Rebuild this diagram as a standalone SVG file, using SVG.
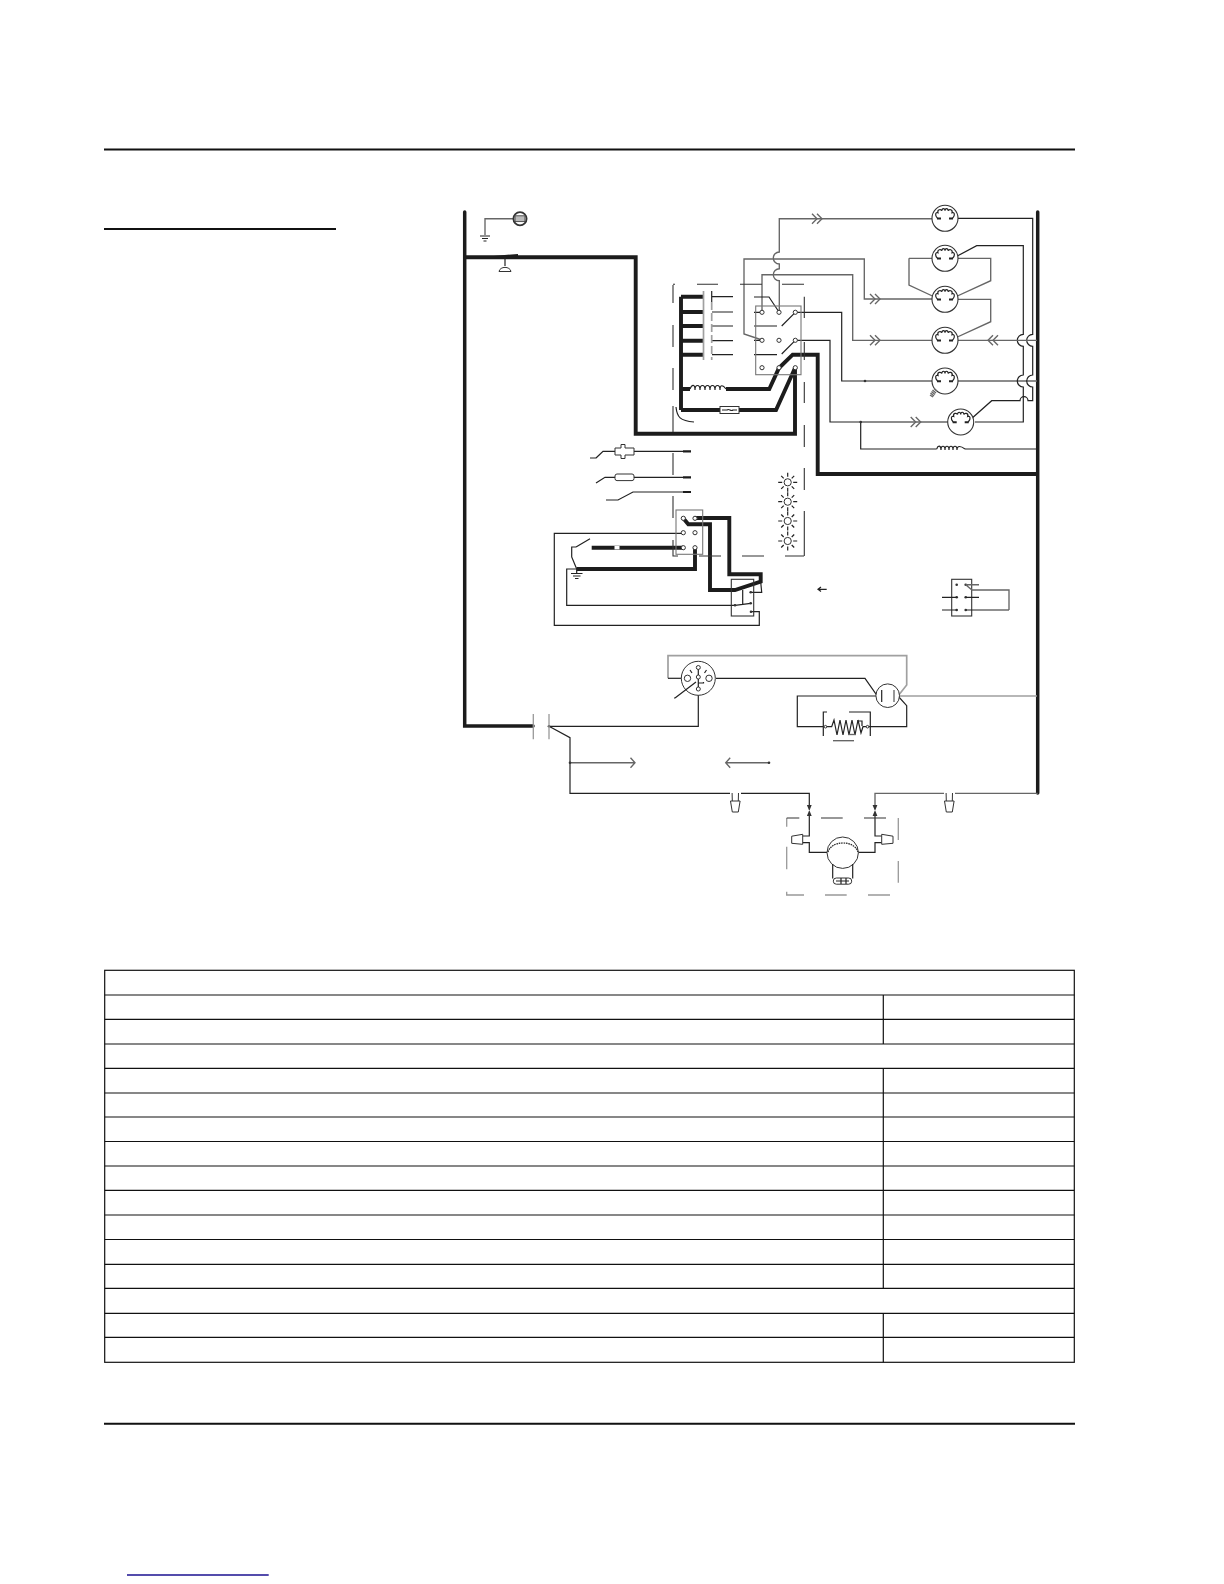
<svg xmlns="http://www.w3.org/2000/svg" xmlns:xlink="http://www.w3.org/1999/xlink" width="1224" height="1584" viewBox="0 0 1224 1584">
<style>
.w{fill:none;stroke:#222;stroke-width:1.2}
.g{fill:none;stroke:#666;stroke-width:1.35}
.lg{fill:none;stroke:#a0a0a0;stroke-width:1.7}
.t{fill:none;stroke:#1c1c1c;stroke-width:3.9;stroke-linejoin:miter}
.bus{fill:none;stroke:#1c1c1c;stroke-width:3.5;stroke-linecap:round;stroke-linejoin:miter}
.m{fill:none;stroke:#1c1c1c;stroke-width:2.2}
.d{fill:none;stroke:#333;stroke-width:1.1}
.dl{fill:none;stroke:#999;stroke-width:1.3}
.o{fill:#fff;stroke:#333;stroke-width:1}
.b{fill:#333;stroke:none}
.rule{fill:none;stroke:#111;stroke-width:2}
.tb{fill:none;stroke:#111;stroke-width:1.2}
</style>
<defs>
<g id="motor">
<circle r="13" fill="#fff" stroke="#333" stroke-width="1.1"/>
<path class="w" d="M-7.5 0C-10.5-3-9.5-6.5-7-5.5C-8-9-4-9.5-3.2-7.5C-3-10.5 0-10.5 0-7.5C0-10.5 3-10.5 3.2-7.5C4-9.5 8-9 7-5.5C9.5-6.5 10.5-3 7.5 0"/>
<path d="M-8 0.3H-4M4 0.3H8" stroke="#222" stroke-width="2" fill="none"/>
</g>
<path id="chev" class="g" d="M-6-5L-1 0L-6 5M-1-5L4 0L-1 5"/>
<g id="lamp">
<circle r="3.6" fill="#fff" stroke="#333" stroke-width="1"/>
<path class="w" d="M-9.5 0H-5.5M5.5 0H9.5M0-9.5V-5.5M0 5.5V9.5M-6.5-6.5L-4-4M6.5-6.5L4-4M-6.5 6.5L-4 4M6.5 6.5L4 4"/>
</g>
<path id="nut" class="o" d="M-4.8 0H4.8L3 11H-3ZM-3 0L-3.2-8M3 0L3.2-8"/>
<circle id="term" r="2.1" class="o"/>
<circle id="dot" r="1.3" class="b"/>
</defs>

<g id="page-rules">
<path class="rule" d="M104 149.5H1075M104 1423.7H1075"/>
<path class="rule" d="M104 229H336"/>
<path d="M127 1575H268.7" stroke="#1b1090" stroke-width="1.3" fill="none"/>
</g>

<g id="table">
<rect class="tb" x="104.7" y="970.3" width="969.6" height="392"/>
<path class="tb" d="M104.7 995H1074.3M104.7 1019.3H1074.3M104.7 1044H1074.3M104.7 1068.3H1074.3M104.7 1093H1074.3M104.7 1117H1074.3M104.7 1141.5H1074.3M104.7 1166H1074.3M104.7 1190.3H1074.3M104.7 1215H1074.3M104.7 1239.5H1074.3M104.7 1264.3H1074.3M104.7 1288.3H1074.3M104.7 1313.3H1074.3M104.7 1337.3H1074.3"/>
<path class="tb" d="M883.3 995V1044M883.3 1068.3V1288.3M883.3 1313.3V1362.3"/>
</g>

<g id="connectors">
<path class="bus" d="M464.7 212V726H533"/>
<path class="bus" d="M1037.7 212V793"/>
<path class="t" d="M465 257.3H635.7V433.7H795V368"/>
<path class="t" d="M681 296.7V410M681 296.7H703M681 312H703M681 326H703M681 340.7H703M681 354.7H703"/>
<path class="t" d="M681 389H690M726 389H769.3L779 368L792.7 354.7H817.7V474H1037.7"/>
<path class="t" d="M681 410H720M739 410H776L795 368"/>
<path class="t" d="M695 518H729.3V574.3H760.7V581.7L735 590H710V524.3H688.3L683.3 518.3"/>
<path class="t" d="M683.3 547.7H591.7"/>
<path class="t" d="M695 548V569H576.7"/>
<path class="g" d="M485 235V218.7H513"/>
<path class="g" d="M932 218.7H779.3V252A6 6 0 0 0 779.3 264V268.7A6 6 0 0 0 779.3 280.7V312"/>
<path class="g" d="M762 340L744 334V259H864.3V299H932"/>
<path class="g" d="M762 312V274.7H852.7V340.3H932"/>
<path class="w" d="M795.3 312.3H841.7V381H865"/>
<path class="g" d="M865 381H932M958 381H1037"/>
<path class="w" d="M795.3 340.3H830V422H860"/>
<path class="g" d="M860 422H948"/>
<path class="w" d="M860.7 422V449H936.7M965 449H1037"/>
<path class="w" d="M958 218.3H1032.7V334.3A6 6 0 0 0 1032.7 346.3V375A6 6 0 0 0 1032.7 387V400.7H1028A4 4 0 0 0 1020 400.7H991.7L968 421.7"/>
<path class="w" d="M953 258.3L976.7 245.7H1023.3V334.3A6 6 0 0 0 1023.3 346.3V375A6 6 0 0 0 1023.3 387V422H975"/>
<path class="g" d="M909 258.3H990.7V280.7L953 298M909 258.3V285L936.7 298"/>
<path class="g" d="M958 299.3H990.7V321.7L953 339"/>
<path class="g" d="M958 340.3H1037"/>
<path class="w" d="M754 297H769L779 312M754 312.3H762M754 326H777M781.7 326L795.3 312.3M754 340.3H762M754 354.7H777M781.7 354L795.3 340.3"/>
<path class="w" d="M712 296.7H733M712 312H733M712 326H733M712 340.7H733M712 354.7H733"/>
<path class="w" d="M676 407C677 417 680 421 694 422"/>
<path class="w" d="M596 458H590M596 458L603 451.3H615M634 451.3H683"/>
<path class="m" d="M683 451.3H691M683 477.3H691M683 492H691"/>
<path class="w" d="M596 483L605 477.3H615M634 477.3H683"/>
<path class="w" d="M606 500H618L633 492H683"/>
<path class="w" d="M576 547L590 538.7M576 547H571.7V557L576.7 569"/>
<path class="w" d="M576.7 569H566.7V605.3H735L750.7 603.3M742.7 590V605"/>
<path class="w" d="M683.3 533.3H554.3V625.3H759.3V611.7H750.7"/>
<path class="w" d="M760.7 582L761.7 592.3H750.7"/>
<path class="lg" d="M668 678.3V655.7H906.7V685L898 696M898 696H1037"/>
<path class="w" d="M668 678.3H682"/>
<path class="w" d="M716 678.3H865L877.3 696H797.3V726.7H823.3M868 726.7H906.7V705.7L898 696"/>
<path class="w" d="M698.3 689V726.3H549L570 737.7V793.3H730M741 793.3H809.3V805"/>
<path class="g" d="M570 762.7H635M630.5 757.7L635 762.7L630.5 767.7"/>
<path class="g" d="M769 762.7H725.7M730.2 757.7L725.7 762.7L730.2 767.7"/>
<path class="g" d="M1037.7 793.3H955M944 793.3H875V805"/>
<path class="w" d="M809.3 816V836H802.7M802.7 842.7H809.3V852.3H827M858.4 852.3H875V842.7H881.7M881.7 836H875V816"/>
<path class="b" d="M806.9 805H811.7L809.3 811ZM872.6 805H877.4L875 811ZM806.9 816H811.7L809.3 810ZM872.6 816H877.4L875 810Z"/>
</g>

<g id="dashed-outlines">
<path class="d" d="M673 285V303M673 325V347M673 368V390M673 406V432M673 453V475M673 496V518M673 540V556H678"/>
<path class="d" d="M673 284.3H675M697 284.3H718M740 284.3H762M782 284.3H804"/>
<path class="d" d="M804.3 296.7V318M804.3 342V360M804.3 382V403M804.3 425V447M804.3 468V490M804.3 511V533V556M699 556H721M742 556H764M785 556H804"/>
<path class="dl" d="M786.7 818V826.7M786.7 846.7V869.3M786.7 891.7V895H804M825 895H846.7M868 895H890M898.3 818V840M898.3 861V882.7"/>
<path class="d" d="M786.7 818H799.3M821 818H842.7M864 818H886"/>
</g>

<g id="ground-outlet">
<circle cx="520" cy="218.7" r="6.6" fill="#fff" stroke="#333" stroke-width="1.8"/>
<rect x="515" y="215.8" width="10" height="5.8" fill="#bbb" stroke="#444" stroke-width="0.9"/>
<path class="w" d="M480 236H490M482 238.5H488M483.5 241H486.5"/>
</g>

<g id="door-switch">
<path class="m" d="M494 257L518 255"/>
<path class="w" d="M505 257V266"/>
<path class="o" d="M499 271.5C500 266 510 266 511 271.5Z"/>
</g>

<g id="contactor-caps">
<path class="lg" d="M703.5 291V360"/>
<path class="lg" d="M711.7 302V360" stroke-dasharray="8 3"/>
<path class="w" d="M711.7 291V302"/>
</g>

<g id="relay">
<rect x="755.7" y="306" width="45.3" height="68.7" fill="none" stroke="#777" stroke-width="1.1"/>
<use xlink:href="#term" x="762" y="312.3"/><use xlink:href="#term" x="779" y="312.3"/><use xlink:href="#term" x="795.3" y="312.3"/>
<use xlink:href="#term" x="762" y="340.3"/><use xlink:href="#term" x="779" y="340.3"/><use xlink:href="#term" x="795.3" y="340.3"/>
<use xlink:href="#term" x="762" y="367.7"/><use xlink:href="#term" x="779" y="367.7"/><use xlink:href="#term" x="795.3" y="367.7"/>
</g>

<g id="coil-upper">
<path class="w" d="M690 389C692 384 695 384 695 390C695 384 700 384 700 390C700 384 705 384 705 390C705 384 710 384 710 390C710 384 715 384 715 390C715 384 720 384 720 390C720 384 723 385 726 389"/>
</g>
<g id="fuse">
<rect x="720" y="406.5" width="19" height="7" class="o"/>
<path class="w" d="M722 410H727C729 408 731 412 733 410H737"/>
</g>

<g id="motors">
<use xlink:href="#motor" x="945" y="218.3"/>
<use xlink:href="#motor" x="945" y="258.3"/>
<use xlink:href="#motor" x="945" y="299.3"/>
<use xlink:href="#motor" x="945" y="340.3"/>
<use xlink:href="#motor" x="945" y="381"/>
<use xlink:href="#motor" x="960.7" y="422"/>
<path class="g" d="M934 388.5L937 391M932.5 390L936 393M931.5 391.5L935 394.5M930.5 393L934 396M930 395L933 397"/>
</g>

<g id="chevrons">
<use xlink:href="#chev" x="818" y="218.7"/>
<use xlink:href="#chev" x="876" y="299"/>
<use xlink:href="#chev" x="876" y="340.3"/>
<use xlink:href="#chev" x="916.7" y="422"/>
<use xlink:href="#chev" transform="translate(992 340.3) rotate(180)"/>
</g>

<g id="junction-dots">
<use xlink:href="#dot" x="865" y="381"/><use xlink:href="#dot" x="860.7" y="422"/>
<use xlink:href="#dot" x="570" y="762.7"/><use xlink:href="#dot" x="769" y="762.7"/><use xlink:href="#dot" x="549" y="726.3"/>
</g>

<g id="coil-lower">
<path class="w" d="M936.7 449C938 445 941 445 941 450C941 445 945 445 945 450C945 445 949 445 949 450C949 445 953 445 953 450C953 445 957 445 957 450C957 445 961 446 965 449"/>
</g>

<g id="sensors">
<path class="o" d="M615 448H621V444.5H625V448H634V455H625V458.5H621V455H615Z"/>
<rect x="615" y="474" width="19" height="6.6" rx="2" class="o"/>
</g>

<g id="ignition-block">
<rect x="676" y="510" width="26.7" height="44.3" fill="none" stroke="#777" stroke-width="1.1"/>
<use xlink:href="#term" x="683.3" y="518.3"/><use xlink:href="#term" x="695" y="518.3"/>
<use xlink:href="#term" x="683.3" y="532.7"/><use xlink:href="#term" x="695" y="532.7"/>
<use xlink:href="#term" x="683.3" y="547.7"/><use xlink:href="#term" x="695" y="547.7"/>
<rect x="614.5" y="546" width="5" height="3.4" fill="#fff"/>
</g>

<g id="ground-2">
<path class="w" d="M576.7 569V573"/>
<path class="w" d="M571 573.5H582.5M573 576H580.5M575 578.5H578.5"/>
</g>

<g id="relay-2">
<rect x="731.3" y="579.3" width="22.4" height="36.7" fill="none" stroke="#333" stroke-width="1.1"/>
<use xlink:href="#dot" x="750.7" y="592.3"/><use xlink:href="#dot" x="750.7" y="603.3"/><use xlink:href="#dot" x="751" y="611.7"/><use xlink:href="#dot" x="735" y="605.3"/>
</g>

<g id="lamps">
<use xlink:href="#lamp" x="787.7" y="482.3"/>
<use xlink:href="#lamp" x="787.7" y="501.7"/>
<use xlink:href="#lamp" x="787.7" y="521"/>
<use xlink:href="#lamp" x="787.7" y="541"/>
<path class="w" d="M826.7 589.3H818M821 587L818 589.3L821 591.5"/>
</g>

<g id="terminal-block">
<rect x="951.7" y="579.3" width="20" height="36.7" fill="none" stroke="#333" stroke-width="1.1"/>
<use xlink:href="#dot" x="956.7" y="584.7"/><use xlink:href="#dot" x="965.7" y="584.7"/>
<use xlink:href="#dot" x="956.7" y="597.3"/><use xlink:href="#dot" x="965.7" y="597.3"/>
<use xlink:href="#dot" x="956.7" y="610"/><use xlink:href="#dot" x="965.7" y="610"/>
<path class="w" d="M942 597.3H956.7M942 610H956.7M965.7 597.3H979M965.7 610H1009"/>
<path class="g" d="M965.7 584.7H979M965.7 584.7L972 590H1009V610"/>
</g>

<g id="compressor">
<circle cx="698.3" cy="678.3" r="17" class="o"/>
<circle cx="687.5" cy="678.3" r="3.2" class="o"/>
<circle cx="709" cy="678.3" r="3.2" class="o"/>
<circle cx="698.3" cy="667.5" r="2" class="o"/>
<circle cx="698.3" cy="677" r="2" class="o"/>
<circle cx="698.3" cy="689" r="2" class="o"/>
<path class="w" d="M698.3 669.5V675M698.3 679V683H703.5V682M698.3 683V687M690 670L692 673M706.5 670L704.5 673"/>
<path class="w" d="M675 698L696 682M675 698H674"/>
</g>

<g id="run-capacitor">
<circle cx="887.7" cy="695.7" r="11.8" class="o"/>
<path class="w" d="M881.7 690V702"/>
<path class="g" d="M894 690V702"/>
</g>

<g id="heater">
<path class="w" d="M825 726.7L831.7 726.7L834 720L837 735L840 720L843 735L846 720L849 735L852 720L855 735L858 720L861 733L863 726.7H868"/>
<path class="w" d="M827 712H823.3V736M849 712H870.3V736M857 721H862V726"/>
<path class="g" d="M833 740.7H854"/>
<path class="g" d="M848 734.5H856"/>
<circle cx="825.5" cy="726.7" r="1.3" class="o"/><circle cx="867.5" cy="726.7" r="1.3" class="o"/>
</g>

<g id="contactor-main">
<path class="dl" d="M533.3 714V739.3M549 714V739.3"/>
</g>

<g id="wire-nuts">
<use xlink:href="#nut" x="735.3" y="801"/>
<use xlink:href="#nut" x="949.3" y="801"/>
<path class="o" d="M791.7 836.2L802.7 834.3V844.3L791.7 843.3Z"/>
<path class="o" d="M881.7 834.3L893 836.2V843.3L881.7 844.3Z"/>
</g>

<g id="fan-motor">
<circle cx="842.7" cy="852.7" r="15.7" class="o"/>
<path class="w" d="M828 852C830 846 836 843 843 843C850 843 856 846 858 852" stroke-dasharray="1.6 0.8" stroke-width="1.6"/>
<path class="w" d="M832.7 864V878.5M852.7 864V878.5"/>
<rect x="833.3" y="878" width="18.4" height="6.2" rx="3" class="o"/>
<path class="w" d="M836 881H849M841 878V884M846 878V884"/>
</g>
</svg>
